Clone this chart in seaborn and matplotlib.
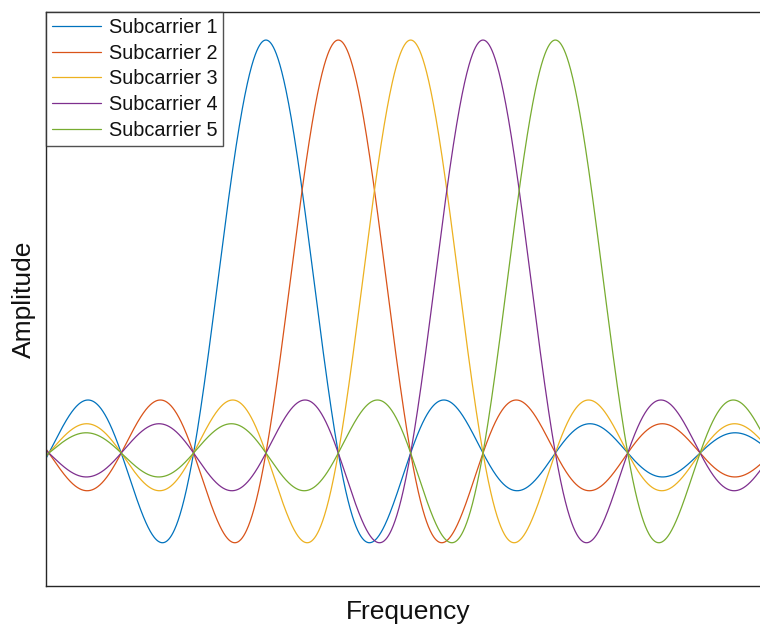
import numpy as np
import pandas as pd
import matplotlib
matplotlib.use("Agg")
import matplotlib.pyplot as plt
import seaborn as sns

# plain white theme, no ticks
sns.set_style("white")
plt.rcParams['font.family'] = ['Liberation Sans', 'DejaVu Sans']
plt.rcParams['text.color'] = '#111111'
plt.rcParams['axes.labelcolor'] = '#111111'

# --- data ---
labels = ['Subcarrier 1', 'Subcarrier 2', 'Subcarrier 3', 'Subcarrier 4', 'Subcarrier 5']
centers = [0, 1, 2, 3, 4]            # subcarrier centre frequencies (spacing = 1)
freq_start, freq_stop = -3.04, 6.97  # frequency axis range
colors = ['#0072BD', '#D95319', '#EDB120', '#7E2F8E', '#77AC30']

freq = np.linspace(freq_start, freq_stop, 2001)
frames = []
for name, c in zip(labels, centers):
    frames.append(pd.DataFrame({'Frequency': freq,
                                'Amplitude': np.sinc(freq - c),
                                'Subcarrier': name}))
spectrum = pd.concat(frames, ignore_index=True)

# --- plot ---
fig = plt.figure(figsize=(7.6, 6.26), dpi=100)
ax = fig.add_axes([0.0605, 0.0639, 0.953, 0.917])

sns.lineplot(data=spectrum, x='Frequency', y='Amplitude', hue='Subcarrier',
             palette=colors, linewidth=0.9, ax=ax, sort=False)

ax.set_xlim(freq_start, freq_stop)
ax.set_ylim(-0.322, 1.068)
ax.set_xticks([])
ax.set_yticks([])
ax.set_xlabel('Frequency', fontsize=19, labelpad=10)
ax.set_ylabel('Amplitude', fontsize=19, labelpad=7)

for sp in ax.spines.values():
    sp.set_color('#262626')
    sp.set_linewidth(1.0)

leg = ax.legend(loc='upper left', fontsize=14.3, frameon=True, fancybox=False,
                borderaxespad=0, handlelength=2.45, handletextpad=0.4,
                labelspacing=0.34, borderpad=0.3)
leg.get_frame().set_edgecolor('#262626')
leg.get_frame().set_linewidth(1.0)

plt.savefig('out.png', dpi=100)
